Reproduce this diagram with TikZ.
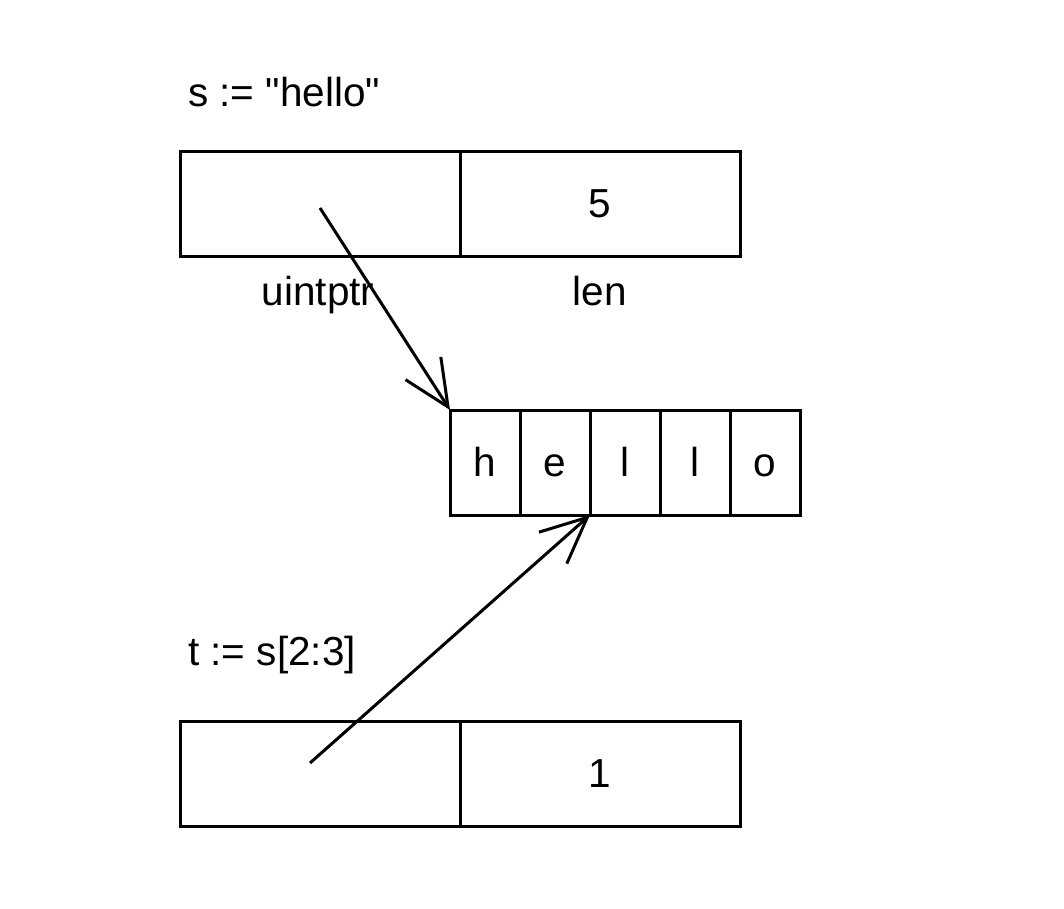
\documentclass[tikz,border=0pt]{standalone}
\usepackage{fontspec}
\setmainfont{Liberation Sans}
\usetikzlibrary{arrows.meta}

\tikzset{
  field/.style={draw, line width=3pt, minimum width=280pt, minimum height=105pt, inner sep=0pt, outer sep=0pt},
  cell/.style={draw, line width=3pt, minimum width=70pt, minimum height=105pt, inner sep=0pt, outer sep=0pt},
  txt/.style={font=\fontsize{40.5}{48}\selectfont, inner sep=0pt},
  boxed/.style={txt, text height=28pt, text depth=0pt},
  ptr/.style={line width=3pt, -{Straight Barb[length=46pt, width=42pt, line width=3pt]}}
}

\begin{document}
\begin{tikzpicture}[x=1pt, y=-1pt]
      \useasboundingbox (0,0) rectangle (1064,908);
      % s header
      \node[txt, anchor=base west] (stitle) at (188,106) {s := \textquotedbl hello\textquotedbl};
      \node[field] (sptr) at (320,203.5) {};
      \node[field, boxed] (slen) at (600,203.5) {5};
      \node[txt, anchor=base] (lptr) at (318,305) {uintptr};
      \node[txt, anchor=base] (llen) at (600,305) {len};
      % backing bytes
      \foreach \c [count=\i] in {h,e,l,l,o}
        \node[cell, boxed] (b\i) at (415+70*\i,462.5) {\c};
      % t header
      \node[txt, anchor=base west] (ttitle) at (188,665) {t := s[2:3]};
      \node[field] (tptr) at (320,773.5) {};
      \node[field, boxed] (tlen) at (600,773.5) {1};
      % pointers
      \coordinate (sfrom) at (320,208);
      \coordinate (tfrom) at (310,763);
      \draw[ptr] (sfrom) -- (b1.north west);
      \draw[ptr] (tfrom) -- (b3.south west);
\end{tikzpicture}
\end{document}
